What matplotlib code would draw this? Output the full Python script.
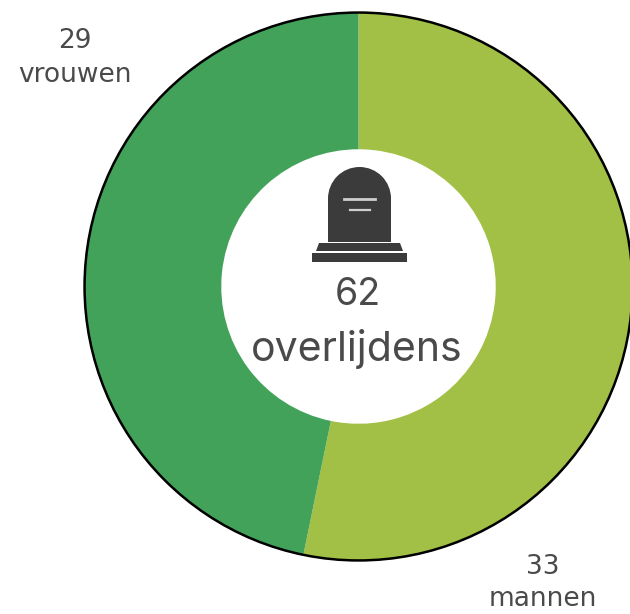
import matplotlib
matplotlib.use('Agg')
import matplotlib.pyplot as plt
from matplotlib.patches import Polygon, Rectangle, Wedge

labels = ['mannen', 'vrouwen']
values = [33, 29]
colors = ['#a1c045', '#42a25a']
total_label = 'overlijdens'

fig = plt.figure(figsize=(6.30, 6.14), dpi=100)

# ring placed in pixels
pie_ax = fig.add_axes([84 / 630, 1 - 561 / 614, 549 / 630, 549 / 614])
pie_ax.pie(values, colors=colors, startangle=90, counterclock=False, radius=1,
           wedgeprops=dict(width=0.5, edgecolor='none'))
pie_ax.add_patch(plt.Circle((0, 0), 0.998, fill=False, ec='black', lw=1.8, clip_on=False))
pie_ax.set_xlim(-1, 1)
pie_ax.set_ylim(-1, 1)

# grave icon and texts
top = fig.add_axes([0, 0, 1, 1])
top.set_xlim(0, 630)
top.set_ylim(614, 0)
top.axis('off')
top.patch.set_alpha(0)
dark = '#3b3b3b'
top.add_patch(Wedge((359.5, 198.5), 31.5, 180, 360, fc=dark, ec='none'))
top.add_patch(Rectangle((328, 198), 63, 43.5, fc=dark, ec='none'))
top.add_patch(Polygon([(316, 251), (319, 243), (400, 243), (403, 251)], closed=True, fc=dark, ec='none'))
top.add_patch(Rectangle((312, 253), 95, 9, fc=dark, ec='none'))
top.plot([344, 375], [198.5, 198.5], color='#cfcfcf', lw=2)
top.plot([350, 370], [210, 210], color='#cfcfcf', lw=1.6)

text_color = '#4a4a4a'
top.text(358, 295, str(sum(values)), ha='center', va='center', fontsize=27, family='Inter', color=text_color)
top.text(357, 349, total_label, ha='center', va='center', fontsize=29.5, family='Inter', color=text_color)
top.text(75, 41, str(values[1]), ha='center', va='center', fontsize=19, family='DejaVu Sans', color=text_color)
top.text(75, 75, labels[1], ha='center', va='center', fontsize=19, family='DejaVu Sans', color=text_color)
top.text(543, 567, str(values[0]), ha='center', va='center', fontsize=19, family='DejaVu Sans', color=text_color)
top.text(543, 599, labels[0], ha='center', va='center', fontsize=19, family='DejaVu Sans', color=text_color)

plt.savefig('out.png', dpi=100)
